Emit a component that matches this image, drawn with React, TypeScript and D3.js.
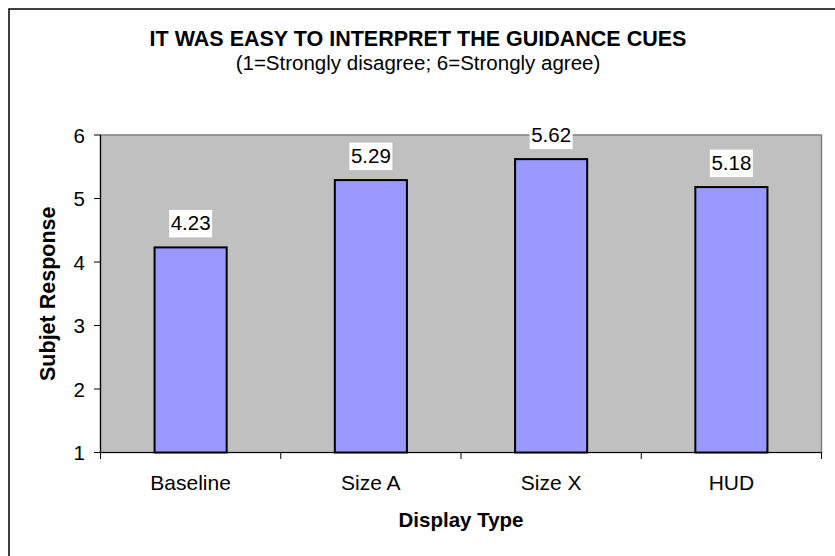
import React from "react";
import * as d3 from "d3";

const categories = ["Baseline", "Size A", "Size X", "HUD"];
const values = [4.23, 5.29, 5.62, 5.18];
const yTicks = [1, 2, 3, 4, 5, 6];
const title = "IT WAS EASY TO INTERPRET THE GUIDANCE CUES";
const subtitle = "(1=Strongly disagree; 6=Strongly agree)";
const xTitle = "Display Type";
const yTitle = "Subjet Response";

const FONT = "'Liberation Sans', Arial, sans-serif";

export default function App() {
  const left = 100.5, right = 821.5, top = 135, bottom = 452.5;
  const x = d3.scaleBand<string>().domain(categories).range([left, right]).paddingInner(0.6).paddingOuter(0.3);
  const xb = d3.scaleBand<string>().domain(categories).range([left, right]);
  const y = d3.scaleLinear().domain([1, 6]).range([bottom, top]);
  const fmt = d3.format(".2f");
  return (
    <svg width={835} height={556} style={{ position: "absolute", left: 0, top: 0, background: "#fff" }} fontFamily={FONT}>
      <rect x={9} y={9} width={840} height={560} fill="#fff" stroke="#000" strokeWidth={1.5} />
      <text x={418} y={46} textAnchor="middle" fontSize={21.5} fontWeight="bold">{title}</text>
      <text x={418} y={70} textAnchor="middle" fontSize={20.5}>{subtitle}</text>
      <rect x={left} y={top} width={right - left} height={bottom - top} fill="#C0C0C0" stroke="#808080" strokeWidth={1.5} />
      {categories.map((c, i) => (
        <rect key={c} x={x(c)} y={y(values[i])} width={x.bandwidth()} height={bottom - y(values[i])} fill="#9999FF" stroke="#000" strokeWidth={2} />
      ))}
      <line x1={left} x2={left} y1={top} y2={bottom} stroke="#000" strokeWidth={1.2} />
      <line x1={left} x2={right} y1={bottom} y2={bottom} stroke="#000" strokeWidth={1.2} />
      {yTicks.map((t) => (
        <g key={t}>
          <line x1={left - 6.5} x2={left} y1={y(t)} y2={y(t)} stroke="#000" strokeWidth={1} />
          <text x={85} y={y(t) + 7.5} textAnchor="end" fontSize={20.5}>{t}</text>
        </g>
      ))}
      {[...categories.map((c) => xb(c) as number), right].map((p, i) => (
        <line key={i} x1={p} x2={p} y1={bottom} y2={bottom + 6.5} stroke="#000" strokeWidth={1} />
      ))}
      {categories.map((c) => (
        <text key={c} x={(xb(c) as number) + xb.bandwidth() / 2} y={490} textAnchor="middle" fontSize={21}>{c}</text>
      ))}
      {categories.map((c, i) => {
        const cx = (x(c) as number) + x.bandwidth() / 2;
        const by = y(values[i]) - 17;
        return (
          <g key={c}>
            <rect x={cx - 21.5} y={by - 20.5} width={43} height={27.5} fill="#fff" />
            <text x={cx} y={by} textAnchor="middle" fontSize={20.5}>{fmt(values[i])}</text>
          </g>
        );
      })}
      <text x={(left + right) / 2} y={527} textAnchor="middle" fontSize={20.5} fontWeight="bold">{xTitle}</text>
      <text transform={`translate(55,${(top + bottom) / 2}) rotate(-90)`} textAnchor="middle" fontSize={21.5} fontWeight="bold">{yTitle}</text>
    </svg>
  );
}
